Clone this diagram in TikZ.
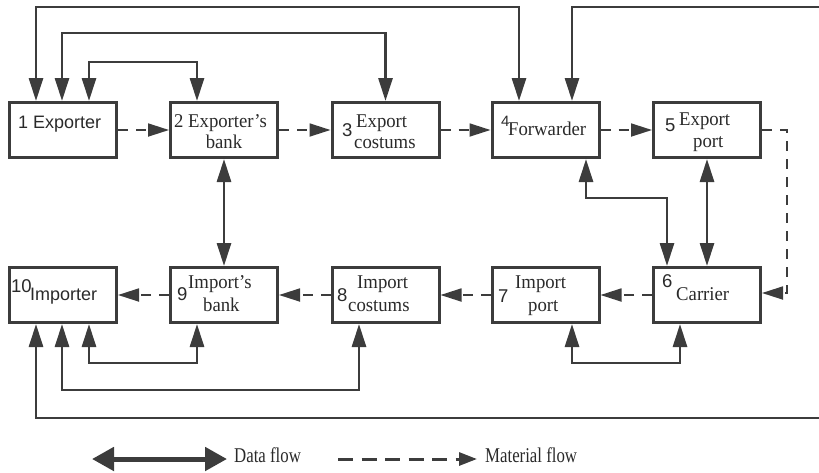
\documentclass[tikz,border=0pt]{standalone}
\usepackage{fontspec}
\setmainfont[FakeStretch=0.96]{Liberation Serif}
\newfontfamily\sansf{Liberation Sans}
\newfontfamily\legf[FakeStretch=0.8]{Liberation Serif}
\usetikzlibrary{arrows.meta,calc}
\definecolor{ink}{HTML}{3C3C3C}
\begin{document}
\begin{tikzpicture}[x=1pt,y=-1pt,
  box/.style={draw=ink,line width=3pt,minimum width=107pt,minimum height=55pt,inner sep=0pt},
  data/.style={draw=ink,line width=2.8pt,{Triangle[length=23pt,width=14pt]}-{Triangle[length=23pt,width=14pt]}},
  mat/.style={draw=ink,line width=1.8pt,dash pattern=on 10pt off 8pt,-{Triangle[length=21pt,width=13pt]}},
  legdata/.style={draw=ink,line width=5pt,{Triangle[length=22pt,width=23pt]}-{Triangle[length=22pt,width=23pt]}},
  legmat/.style={draw=ink,line width=3pt,dash pattern=on 15pt off 8.5pt,-{Triangle[length=18pt,width=13pt]}},
  sw/.style={anchor=base west,inner sep=0pt,text=ink!70!black},
  sans/.style={sw,font=\sansf\fontsize{18}{20}\selectfont},
  num/.style={sw,font=\sansf\fontsize{18.5}{20}\selectfont},
  small/.style={sw,font=\sansf\fontsize{15}{17}\selectfont},
  serif/.style={sw,font=\fontsize{19.5}{21}\selectfont},
  leg/.style={sw,font=\legf\fontsize{21}{23}\selectfont}
]
\useasboundingbox (0,0) rectangle (819,472);
\clip (0,0) rectangle (819,472);
% boxes
\node[box] (b1) at (63,130) {};
\node[box] (b2) at (224,130) {};
\node[box] (b3) at (385.5,130) {};
\node[box] (b4) at (545.5,130) {};
\node[box] (b5) at (707,130) {};
\node[box] (b10) at (63,295) {};
\node[box] (b9) at (224,295) {};
\node[box] (b8) at (385.5,295) {};
\node[box] (b7) at (545.5,295) {};
\node[box] (b6) at (707,295) {};
% texts
\node[sans] (t1) at (18,128) {1 Exporter};
\node[serif] (t2) at (174,127) {2 Exporter’s};
\node[serif,anchor=base] (t2b) at (224,148) {bank};
\node[num] (t3n) at (342,136) {3};
\node[serif] (t3) at (356,127) {Export};
\node[serif] (t3b) at (354,148) {costums};
\node[small] (t4n) at (501,126) {4};
\node[serif] (t4) at (508,135) {Forwarder};
\node[num] (t5n) at (665,131) {5};
\node[serif] (t5) at (679,125) {Export};
\node[serif] (t5b) at (693,147) {port};
\node[num] (t6n) at (662,287) {6};
\node[serif] (t6) at (676,300) {Carrier};
\node[num] (t7n) at (498,302) {7};
\node[serif] (t7) at (515,288) {Import};
\node[serif] (t7b) at (528,311) {port};
\node[num] (t8n) at (337,301) {8};
\node[serif] (t8) at (357,288) {Import};
\node[serif] (t8b) at (348,311) {costums};
\node[num] (t9n) at (177,300) {9};
\node[serif] (t9) at (188,288) {Import’s};
\node[serif] (t9b) at (203,311) {bank};
\node[num] (t10n) at (11,292) {10};
\node[sans] (t10) at (30,300) {Importer};
% helper coordinates
\coordinate (yA) at (300,7);
\coordinate (yB) at (200,33);
\coordinate (yC) at (150,62);
\coordinate (topR) at (826,7);
\coordinate (botR) at (826,418);
\coordinate (yE) at (150,363);
\coordinate (yF) at (200,390);
\coordinate (yG) at (620,363);
\coordinate (yI) at (620,198);
\coordinate (mR) at (787,200);
% data flows
\draw[data] ([xshift=-27pt]b1.north) |- (yA) -| ([xshift=-26.5pt]b4.north);
\draw[data] ([xshift=-1pt]b1.north) |- (yB) -| (b3.north);
\draw[data] ([xshift=26pt]b1.north) |- (yC) -| ([xshift=-27pt]b2.north);
\draw[data] ([xshift=26.5pt]b4.north) |- (topR) -- (botR) -| ([xshift=-27pt]b10.south);
\draw[data] ([xshift=26pt]b10.south) |- (yE) -| ([xshift=-27pt]b9.south);
\draw[data] ([xshift=-1pt]b10.south) |- (yF) -| ([xshift=-26.5pt]b8.south);
\draw[data] ([xshift=26.5pt]b7.south) |- (yG) -| ([xshift=-27pt]b6.south);
\draw[data] (b2.south) -- (b9.north);
\draw[data] ([xshift=40.5pt]b4.south) |- (yI) -| ([xshift=-40pt]b6.north);
\draw[data] (b5.south) -- (b6.north);
% material flows
\draw[mat] (b1.east) -- (b2.west);
\draw[mat] (b2.east) -- (b3.west);
\draw[mat] (b3.east) -- (b4.west);
\draw[mat] (b4.east) -- (b5.west);
\draw[mat] (b5.east) -| (mR) |- ([yshift=2pt]b6.east);
\draw[mat] (b6.west) -- (b7.east);
\draw[mat] (b7.west) -- (b8.east);
\draw[mat] (b8.west) -- (b9.east);
\draw[mat] (b9.west) -- (b10.east);
% legend
\coordinate (l1a) at (92,459);
\coordinate (l1b) at (227,459);
\coordinate (l2a) at (338,459);
\coordinate (l2b) at (477,459);
\draw[legdata] (l1a) -- (l1b);
\draw[legmat] (l2a) -- (l2b);
\node[leg] (ld) at (234,462) {Data flow};
\node[leg] (lm) at (485,462) {Material flow};
\end{tikzpicture}
\end{document}
